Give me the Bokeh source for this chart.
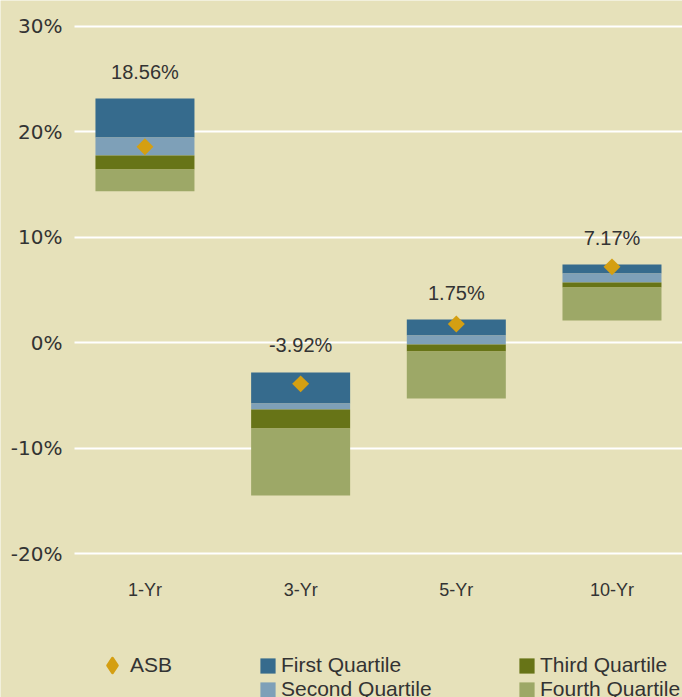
import math
from bokeh.plotting import figure
from bokeh.models import ColumnDataSource, Range1d, FixedTicker, Legend, LegendItem
from bokeh.core.properties import value
from bokeh.embed import file_html
from bokeh.resources import INLINE

# ---- data ----
categories = ["1-Yr", "3-Yr", "5-Yr", "10-Yr"]
q1_top = [23.13, -2.84, 2.18, 7.39]        # top of first quartile
q1_bottom = [19.43, -5.78, 0.66, 6.54]     # first / second boundary
q2_bottom = [17.73, -6.35, -0.19, 5.69]    # second / third boundary
q3_bottom = [16.40, -8.15, -0.85, 5.21]    # third / fourth boundary
q4_bottom = [14.34, -14.50, -5.31, 2.09]   # bottom of fourth quartile
asb = [18.56, -3.92, 1.75, 7.17]
y_ticks = [-20, -10, 0, 10, 20, 30]
y_tick_labels = ["-20%", "-10%", "0%", "10%", "20%", "30%"]

# ---- style ----
BG = "#E6E1BA"
C1 = "#366B8D"
C2 = "#7EA0B8"
C3 = "#677417"
C4 = "#9DA867"
GOLD = "#D49F12"
TXT = "#333333"

xs = list(range(len(categories)))
src = ColumnDataSource(dict(
    x=xs, t1=q1_top, b1=q1_bottom, b2=q2_bottom, b3=q3_bottom, b4=q4_bottom,
    asb=asb, lab=["%.2f%%" % v for v in asb],
))

X0, X1 = -0.928, 3.453
AXIS_X = -0.453
p = figure(width=682, height=697, output_backend="svg", toolbar_location=None,
           title=None,
           x_range=Range1d(X0, X1), y_range=Range1d(-33.65, 32.42),
           min_border_left=0, min_border_right=0, min_border_top=0,
           min_border_bottom=0)
p.background_fill_color = BG
p.border_fill_color = BG
p.outline_line_color = None

W = 0.636
r1 = p.vbar(x="x", width=W, top="t1", bottom="b1", fill_color=C1, line_color=None, source=src)
r2 = p.vbar(x="x", width=W, top="b1", bottom="b2", fill_color=C2, line_color=None, source=src)
r3 = p.vbar(x="x", width=W, top="b2", bottom="b3", fill_color=C3, line_color=None, source=src)
r4 = p.vbar(x="x", width=W, top="b3", bottom="b4", fill_color=C4, line_color=None, source=src)
rd = p.scatter(x="x", y="asb", marker="square", angle=math.pi / 4, size=12,
               fill_color=GOLD, line_color=None, source=src)
# legend swatch for ASB (legend markers are drawn unrotated); size 0 in the plot
rd_leg = p.scatter(x="x", y="asb", marker="diamond", size=0,
                   fill_color=GOLD, line_color=GOLD, line_width=3,
                   line_join="round", source=src)

p.text(x="x", y="t1", text="lab", y_offset=-27, text_align="center",
       text_baseline="middle", text_font=value("Liberation Sans"),
       text_font_size="20px", text_color=TXT, source=src)

# axes
p.yaxis.fixed_location = AXIS_X
p.yaxis.ticker = FixedTicker(ticks=y_ticks)
p.yaxis.major_label_overrides = {t: l for t, l in zip(y_ticks, y_tick_labels)}
p.yaxis.axis_line_color = None
p.yaxis.major_tick_line_color = None
p.yaxis.minor_tick_line_color = None
p.yaxis.major_tick_out = 0
p.yaxis.major_tick_in = 0
p.yaxis.major_label_standoff = 12
p.yaxis.major_label_text_font = "DejaVu Sans"
p.yaxis.major_label_text_font_size = "20px"
p.yaxis.major_label_text_color = TXT

p.xaxis.fixed_location = -21.61
p.xaxis.ticker = FixedTicker(ticks=xs)
p.xaxis.major_label_overrides = {i: c for i, c in zip(xs, categories)}
p.xaxis.axis_line_color = None
p.xaxis.major_tick_line_color = None
p.xaxis.minor_tick_line_color = None
p.xaxis.major_tick_out = 0
p.xaxis.major_tick_in = 0
p.xaxis.major_label_standoff = 10
p.xaxis.major_label_text_font = "Liberation Sans"
p.xaxis.major_label_text_font_size = "18px"
p.xaxis.major_label_text_color = TXT

p.xgrid.grid_line_color = None
p.ygrid.ticker = FixedTicker(ticks=y_ticks)
p.ygrid.cross_bounds = (AXIS_X, X1)
p.ygrid.grid_line_color = "white"
p.ygrid.grid_line_width = 2


def make_legend(items, loc, gw, gh, standoff):
    leg = Legend(items=items, location=loc, glyph_width=gw, glyph_height=gh,
                 padding=0, margin=0, spacing=0, label_height=20,
                 label_standoff=standoff, border_line_color=None,
                 background_fill_alpha=0, label_text_font="Liberation Sans",
                 label_text_font_size="21px", label_text_color=TXT)
    p.add_layout(leg, "center")


make_legend([LegendItem(label="ASB", renderers=[rd_leg])], (94, 14), 36, 36, 0)
make_legend([LegendItem(label="First Quartile", renderers=[r1]),
             LegendItem(label="Second Quartile", renderers=[r2])], (258, -4), 19, 19, 4)
make_legend([LegendItem(label="Third Quartile", renderers=[r3]),
             LegendItem(label="Fourth Quartile", renderers=[r4])], (517, -4), 19, 19, 4)

open("out.html", "w").write(file_html(p, INLINE))
